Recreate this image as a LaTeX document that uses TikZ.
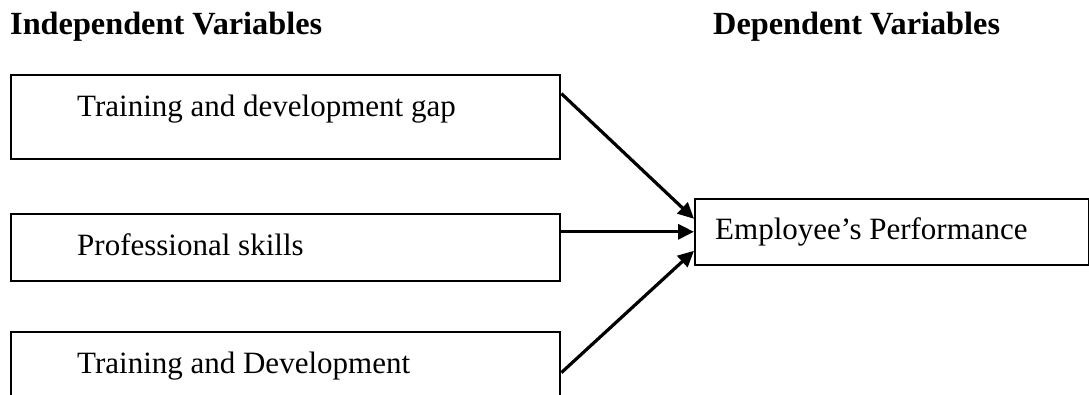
\documentclass[tikz,border=0pt]{standalone}
\usepackage{fontspec}
\setmainfont{Liberation Serif}
\usetikzlibrary{arrows.meta}
\begin{document}
\begin{tikzpicture}[x=1pt,y=1pt,
  box/.style={draw=black, line width=2.4pt, rectangle, inner sep=0pt, minimum width=549pt},
  txt/.style={anchor=base west, inner sep=0pt, font=\fontsize{31}{37}\selectfont},
  head/.style={anchor=base west, inner sep=0pt, font=\fontsize{32.3}{38}\selectfont\bfseries},
  conn/.style={line width=3.2pt, -{Triangle[length=16pt,width=15pt]}}]
\useasboundingbox (0,0) rectangle (1089,394);
\clip (0,0) rectangle (1089,394);
\fill[white] (0,0) rectangle (1089,394);
% headers
\node[head] (hi) at (10,359) {Independent Variables};
\node[head] (hd) at (713,359) {Dependent Variables};
% boxes
\node[box, minimum height=84pt, anchor=south west] (b1) at (10,234) {};
\node[box, minimum height=67pt, anchor=south west] (b2) at (10,112) {};
\node[box, minimum height=90pt, anchor=south west] (b3) at (10,-29) {};
\node[box, minimum width=394pt, minimum height=66pt, anchor=south west] (emp) at (694,128) {};
% texts
\node[txt] (t1) at ([xshift=67pt,yshift=43pt]b1.south west) {Training and development gap};
\node[txt] (t2) at ([xshift=67pt,yshift=27pt]b2.south west) {Professional skills};
\node[txt] (t3) at ([xshift=67pt,yshift=50pt]b3.south west) {Training and Development};
\node[txt] (t4) at ([xshift=21pt,yshift=26pt]emp.south west) {Employee’s Performance};
% connectors
\draw[conn] ([yshift=-20pt]b1.north east) -- ([yshift=13pt]emp.west);
\draw[conn] (b2.east |- emp.west) -- (emp.west);
\draw[conn] ([yshift=-42pt]b3.north east) -- ([yshift=-19pt]emp.west);
\end{tikzpicture}
\end{document}
